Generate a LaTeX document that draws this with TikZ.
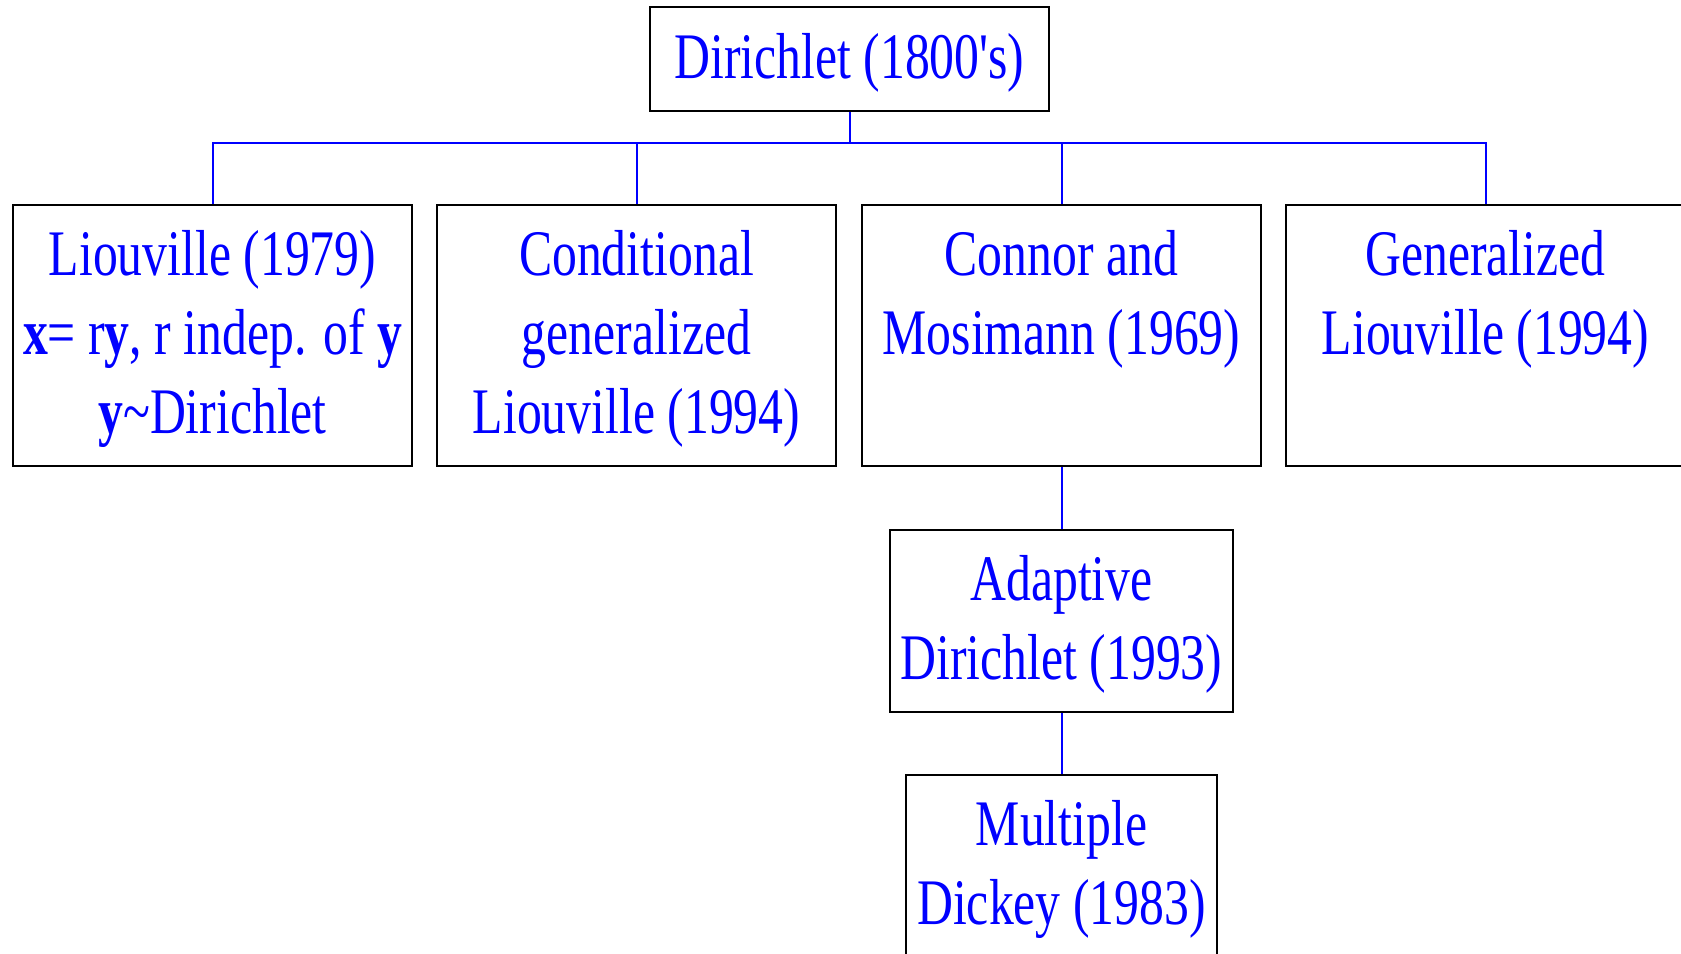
\documentclass[tikz,border=0pt]{standalone}
\usepackage{fontspec}
\setmainfont{Liberation Serif}[FakeStretch=0.765, Ligatures=TeXOff]
\newcommand\mylines[1]{\parbox[t]{500pt}{\centering #1}}
\begin{document}
\begin{tikzpicture}[x=1pt,y=-1pt,
  box/.style={draw=black, line width=2.8pt, rectangle, inner sep=0pt, minimum width=399pt, minimum height=261pt},
  lbl/.style={anchor=base, inner sep=0pt, text=blue, font=\fontsize{65}{79}\selectfont},
  conn/.style={draw=blue, line width=2pt}]
\useasboundingbox (0,0) rectangle (1681,953);
\clip (0,0) rectangle (1681,953);
% boxes
\node[box, minimum height=104pt] (dir) at (849.5,59) {};
\node[box] (liou) at (212.5,335.5) {};
\node[box] (cond) at (636.5,335.5) {};
\node[box] (conn) at (1061.5,335.5) {};
\node[box] (gen) at (1485.5,335.5) {};
\node[box, minimum width=343pt, minimum height=182pt] (adap) at (1061.5,621) {};
\node[box, minimum width=311pt, minimum height=182pt] (mult) at (1061.5,866) {};
% labels
\node[lbl] (tdir) at ([yshift=-73pt]dir.north) {Dirichlet (1800's)};
\node[lbl] (tliou) at ([yshift=-72pt]liou.north) {\mylines{Liouville (1979)\\\textbf{x}= r\textbf{y}, r indep. of \textbf{y}\\\textbf{y}\textasciitilde Dirichlet}};
\node[lbl] (tcond) at ([yshift=-72pt]cond.north) {\mylines{Conditional\\generalized\\Liouville (1994)}};
\node[lbl] (tconn) at ([yshift=-72pt]conn.north) {\mylines{Connor and\\Mosimann (1969)}};
\node[lbl] (tgen) at ([yshift=-72pt]gen.north) {\mylines{Generalized\\Liouville (1994)}};
\node[lbl] (tadap) at ([yshift=-72pt]adap.north) {\mylines{Adaptive\\Dirichlet (1993)}};
\node[lbl] (tmult) at ([yshift=-72pt]mult.north) {\mylines{Multiple\\Dickey (1983)}};
% connectors
\coordinate (bus) at (849.5,143);
\draw[conn] (dir.south) -- (bus);
\draw[conn] (bus) -| (liou.north);
\draw[conn] (bus) -| (cond.north);
\draw[conn] (bus) -| (conn.north);
\draw[conn] (bus) -| (gen.north);
\draw[conn] (conn.south) -- (adap.north);
\draw[conn] (adap.south) -- (mult.north);
\end{tikzpicture}
\end{document}
